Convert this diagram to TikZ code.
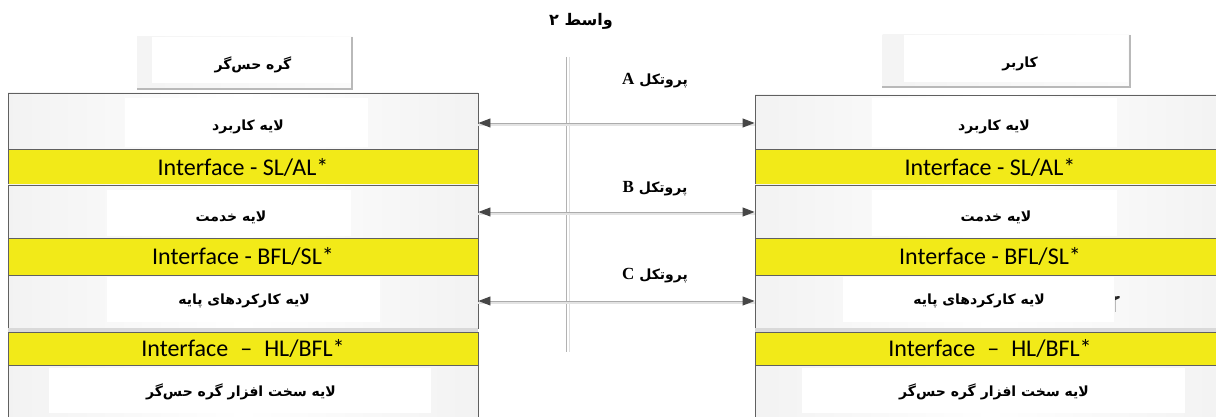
\documentclass[tikz,border=0pt]{standalone}
\usepackage{fontspec}
\setmainfont{Liberation Serif}
\newfontfamily\fafont[Script=Arabic]{DejaVu Sans}
\newfontfamily\uifont{Carlito}
\TeXXeTstate=1
\usetikzlibrary{arrows.meta}
\definecolor{bandyellow}{RGB}{242,234,24}
\definecolor{edgegray}{RGB}{96,96,96}
\definecolor{tipgray}{RGB}{70,70,70}
\newcommand\fatxt[1]{{\fafont\bfseries\beginR #1\endR}}
\newcommand\latinb[1]{{\rmfamily\bfseries\fontsize{17}{18}\selectfont #1}}
\tikzset{
  layer/.style={draw=edgegray, line width=0.9pt, minimum width=470pt, inner sep=0pt,
    left color=gray!10, right color=gray!10, middle color=white},
  whitebox/.style={fill=white, draw=none, inner sep=0pt},
  lbl/.style={inner sep=0pt, font=\fontsize{14}{16}\selectfont},
  band/.style={draw=edgegray, line width=0.9pt, fill=bandyellow, minimum width=470pt,
    inner sep=0pt, font=\uifont\fontsize{24}{26}\selectfont},
  hdr/.style={draw=none, inner sep=0pt, left color=gray!9, right color=gray!3},
  hdrshade/.style={draw=gray!55, line width=2.4pt},
  proto/.style={inner sep=0pt, font=\fontsize{14}{16}\selectfont},
  link/.style={draw=gray!65, line width=0.9pt,
    {Triangle[length=12pt,width=9pt,color=tipgray]}-{Triangle[length=12pt,width=9pt,color=tipgray]}},
  linkshade/.style={draw=gray!22, line width=1.2pt},
}
\begin{document}
\begin{tikzpicture}[x=1pt,y=-1pt]
\useasboundingbox (0,0) rectangle (1216,417);
\clip (0,0) rectangle (1216,417);
\fill[white] (0,0) rectangle (1216,417);

% title
\node[inner sep=0pt, font=\fontsize{16}{18}\selectfont] (title) at (581,21) {\fatxt{واسط ۲}};

% divider between the two nodes
\coordinate (dtop) at (566,57);
\coordinate (dbot) at (566,352);
\draw[gray!25, line width=0.8pt] ([xshift=3pt]dtop) -- ([xshift=3pt]dbot);
\draw[gray!60, line width=0.6pt] (dtop) -- (dbot);

% ---------- left stack: sensor node ----------
\node[hdr, minimum width=215pt, minimum height=52pt] (LH) at (244.5,63) {};
\node[whitebox, minimum width=199pt, minimum height=46pt] (LHw) at (251.5,60) {};
\node[lbl] (LHt) at (253,65) {\fatxt{گره حس‌گر}};
\draw[hdrshade] (LH.north east) -- (LH.south east) -- (LH.south west);

\node[layer, minimum height=56pt] (L1) at (243,121) {};
\node[whitebox, minimum width=243pt, minimum height=49pt] (L1w) at (246.5,122.5) {};
\node[lbl] (L1t) at (248,127) {\fatxt{لایه کاربرد}};
\node[band, minimum height=36pt] (LI1) at (243,167) {Interface - SL/AL*};
\node[layer, minimum height=53pt] (L2) at (243,211.5) {};
\node[whitebox, minimum width=244pt, minimum height=46pt] (L2w) at (229,213) {};
\node[lbl] (L2t) at (231,217) {\fatxt{لایه خدمت}};
\node[band, minimum height=37pt] (LI2) at (243,256.5) {Interface - BFL/SL*};
\node[layer, minimum height=53pt] (L3) at (243,301.5) {};
\node[whitebox, minimum width=273pt, minimum height=45pt] (L3w) at (243.5,299.5) {};
\node[lbl] (L3t) at (244,301) {\fatxt{لایه کارکردهای پایه}};
\fill[gray!30] (L3.south west) rectangle ([yshift=-4pt]L3.south east);
\node[band, minimum height=33pt] (LI3) at (243,348.5) {Interface\enspace–\enspace HL/BFL*};
\node[layer, minimum height=70pt] (L4) at (243,400) {};
\node[whitebox, minimum width=382pt, minimum height=45pt] (L4w) at (240,390.5) {};
\node[lbl] (L4t) at (241,392) {\fatxt{لایه سخت افزار گره حس‌گر}};

% ---------- right stack: user ----------
\node[hdr, minimum width=247pt, minimum height=52pt] (RH) at (1006,61) {};
\node[whitebox, minimum width=224pt, minimum height=47pt] (RHw) at (1016,58.5) {};
\node[lbl] (RHt) at (1020,64) {\fatxt{کاربر}};
\draw[hdrshade] (RH.north east) -- (RH.south east) -- (RH.south west);

\node[layer, minimum height=54pt] (R1) at (990,122) {};
\node[whitebox, minimum width=245pt, minimum height=49pt] (R1w) at (994.5,122.5) {};
\node[lbl] (R1t) at (994,127) {\fatxt{لایه کاربرد}};
\node[band, minimum height=36pt] (RI1) at (990,167) {Interface - SL/AL*};
\node[layer, minimum height=53pt] (R2) at (990,211.5) {};
\node[whitebox, minimum width=245pt, minimum height=46pt] (R2w) at (994.5,213) {};
\node[lbl] (R2t) at (996,217) {\fatxt{لایه خدمت}};
\node[band, minimum height=37pt] (RI2) at (990,256.5) {Interface - BFL/SL*};
\node[layer, minimum height=53pt] (R3) at (990,301.5) {};
\node[whitebox, minimum width=271pt, minimum height=45pt] (R3w) at (978.5,299.5) {};
\node[lbl] (R3t) at (979,301) {\fatxt{لایه کارکردهای پایه}};
% small mark just right of the label box
\draw[gray!55, line width=0.5pt] (1115.5,297.5) -- (1115.5,312);
\fill[black!85] (1115,296.5) -- (1119.5,296) -- (1119.5,298) -- (1116.5,299.5) -- (1115,300) -- cycle;
\fill[gray!30] (R3.south west) rectangle ([yshift=-4pt]R3.south east);
\node[band, minimum height=33pt] (RI3) at (990,348.5) {Interface\enspace–\enspace HL/BFL*};
\node[layer, minimum height=70pt] (R4) at (990,400) {};
\node[whitebox, minimum width=383pt, minimum height=45pt] (R4w) at (993.5,390.5) {};
\node[lbl] (R4t) at (994,392) {\fatxt{لایه سخت افزار گره حس‌گر}};

% ---------- protocols between peer layers ----------
\foreach \a/\b/\y in {L1/R1/123, L2/R2/212, L3/R3/301}{
  \draw[linkshade] ([yshift=-2pt]\a.east |- 0,\y) -- ([yshift=-2pt]\b.west |- 0,\y);
  \draw[link] (\a.east |- 0,\y) -- (\b.west |- 0,\y);
}
\node[proto] (pA) at (655,81) {\fatxt{پروتکل \latinb{A}}};
\node[proto] (pB) at (655,189) {\fatxt{پروتکل \latinb{B}}};
\node[proto] (pC) at (655,276) {\fatxt{پروتکل \latinb{C}}};
\end{tikzpicture}
\end{document}
